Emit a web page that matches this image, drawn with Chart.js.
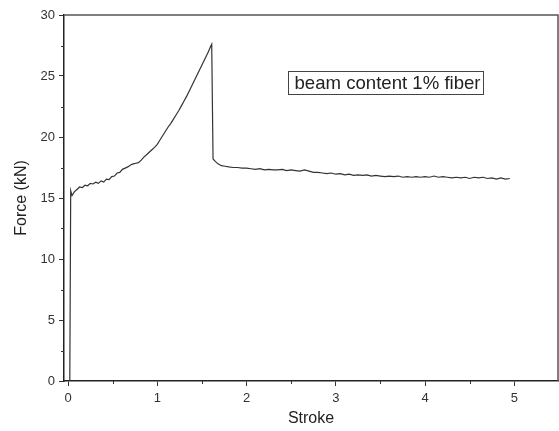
<!DOCTYPE html>
<html>
<head>
<meta charset="utf-8">
<script src="https://cdn.jsdelivr.net/npm/chart.js@4"></script>
<style>
html,body{margin:0;padding:0;background:#fff;}
#wrap{width:559px;height:431px;}
</style>
</head>
<body>
<div id="wrap"><canvas id="c" width="559" height="431"></canvas></div>
<script>
const strokeValues = [0.02,0.03,0.045,0.07,0.10,0.13,0.16,0.19,0.22,0.25,0.28,0.31,0.34,0.37,0.40,0.43,0.46,0.49,0.52,0.55,0.58,0.61,0.64,0.67,0.70,0.73,0.76,0.79,0.82,0.85,0.88,0.91,0.94,0.97,1.00,1.03,1.06,1.09,1.12,1.15,1.18,1.21,1.24,1.27,1.30,1.33,1.36,1.39,1.42,1.45,1.48,1.51,1.54,1.57,1.60,1.61,1.625,1.65,1.68,1.72,1.76,1.80,1.85,1.90,1.95,2.00,2.05,2.10,2.15,2.20,2.25,2.30,2.35,2.40,2.45,2.50,2.55,2.60,2.65,2.70,2.75,2.80,2.85,2.90,2.95,3.00,3.05,3.10,3.15,3.20,3.25,3.30,3.35,3.40,3.45,3.50,3.55,3.60,3.65,3.70,3.75,3.80,3.85,3.90,3.95,4.00,4.05,4.10,4.15,4.20,4.25,4.30,4.35,4.40,4.45,4.50,4.55,4.60,4.65,4.70,4.75,4.80,4.85,4.90,4.95];
const forceValues = [0,15.6,15.2,15.5,15.7,15.9,15.85,16.05,16.0,16.2,16.15,16.3,16.2,16.4,16.3,16.55,16.5,16.75,16.8,17.05,17.1,17.35,17.45,17.55,17.7,17.8,17.85,17.9,18.1,18.35,18.55,18.75,18.95,19.15,19.4,19.75,20.1,20.45,20.8,21.1,21.45,21.8,22.15,22.55,22.95,23.35,23.8,24.25,24.7,25.15,25.6,26.05,26.5,26.95,27.45,27.6,18.2,18.0,17.8,17.65,17.6,17.55,17.5,17.5,17.45,17.45,17.4,17.35,17.4,17.3,17.35,17.3,17.3,17.35,17.25,17.3,17.25,17.2,17.3,17.2,17.1,17.1,17.05,17.0,17.05,16.95,17.0,16.9,16.95,16.85,16.9,16.85,16.9,16.8,16.85,16.8,16.75,16.8,16.75,16.8,16.7,16.75,16.7,16.75,16.7,16.75,16.7,16.8,16.7,16.75,16.7,16.65,16.7,16.65,16.7,16.6,16.7,16.65,16.7,16.6,16.65,16.55,16.65,16.55,16.6];
const xTickLabels = [0,1,2,3,4,5];
const xMinorTicks = [0.5,1.5,2.5,3.5,4.5,5.5];
const yTickLabels = [0,5,10,15,20,25,30];
const yMinorTicks = [2.5,7.5,12.5,17.5,22.5,27.5];
const xTitle = 'Stroke';
const yTitle = 'Force (kN)';
const annotationText = 'beam content 1% fiber';
const annotationAt = {x: 2.47, y: 25.45};

const FONT = "'Liberation Sans', Arial, sans-serif";

const decor = {
  id: 'decor',
  afterDraw(chart) {
    const {ctx, chartArea: a, scales: {x, y}} = chart;
    ctx.save();
    ctx.strokeStyle = '#555';
    ctx.lineWidth = 1.5;
    ctx.beginPath();
    ctx.moveTo(a.left, a.top);
    ctx.lineTo(a.right, a.top);
    ctx.lineTo(a.right, a.bottom);
    ctx.stroke();
    ctx.strokeStyle = '#333';
    ctx.lineWidth = 1;
    ctx.beginPath();
    xMinorTicks.forEach(v => {
      const px = Math.round(x.getPixelForValue(v)) + 0.5;
      if (px > a.right + 1) return;
      ctx.moveTo(px, a.bottom);
      ctx.lineTo(px, a.bottom + 3);
    });
    yMinorTicks.forEach(v => {
      const py = Math.round(y.getPixelForValue(v)) + 0.5;
      ctx.moveTo(a.left, py);
      ctx.lineTo(a.left - 3, py);
    });
    ctx.stroke();
    ctx.font = '18.6px ' + FONT;
    const tw = ctx.measureText(annotationText).width;
    const bx = Math.round(x.getPixelForValue(annotationAt.x)) + 0.5;
    const by = Math.round(y.getPixelForValue(annotationAt.y)) + 0.5;
    const bw = Math.round(tw + 9);
    const bh = 23;
    ctx.strokeStyle = '#444';
    ctx.lineWidth = 1;
    ctx.strokeRect(bx, by, bw, bh);
    ctx.fillStyle = '#222';
    ctx.textBaseline = 'middle';
    ctx.textAlign = 'left';
    ctx.fillText(annotationText, bx + 6, by + bh / 2 + 1);
    ctx.restore();
  }
};

new Chart(document.getElementById('c'), {
  type: 'scatter',
  data: {
    datasets: [{
      data: strokeValues.map((s, i) => ({x: s, y: forceValues[i]})),
      showLine: true,
      borderColor: '#333',
      borderWidth: 1.2,
      pointRadius: 0,
      tension: 0,
      fill: false
    }]
  },
  options: {
    responsive: false,
    animation: false,
    devicePixelRatio: 1,
    layout: {padding: {top: 15, right: 1, left: 0, bottom: 0}},
    plugins: {legend: {display: false}, tooltip: {enabled: false}},
    scales: {
      x: {
        type: 'linear',
        min: -0.045,
        max: 5.49,
        afterBuildTicks: s => { s.ticks = xTickLabels.map(v => ({value: v})); },
        afterFit: s => { s.height = 50; },
        ticks: {autoSkip: false, color: '#333', padding: 5, font: {family: FONT, size: 13}, maxRotation: 0},
        grid: {drawOnChartArea: false, drawTicks: true, tickLength: 5, color: '#333', lineWidth: 1},
        border: {display: true, color: '#222', width: 1.5},
        title: {display: true, text: xTitle, color: '#222', font: {family: FONT, size: 16}, padding: {top: 0, bottom: 3}}
      },
      y: {
        type: 'linear',
        min: 0,
        max: 30,
        afterBuildTicks: s => { s.ticks = yTickLabels.map(v => ({value: v})); },
        afterFit: s => { s.width = 64; },
        ticks: {autoSkip: false, color: '#333', padding: 4, font: {family: FONT, size: 13}},
        grid: {drawOnChartArea: false, drawTicks: true, tickLength: 5, color: '#333', lineWidth: 1},
        border: {display: true, color: '#222', width: 1.5},
        title: {display: true, text: yTitle, color: '#222', font: {family: FONT, size: 16}, padding: {top: 12, bottom: 0}}
      }
    }
  },
  plugins: [decor]
});
</script>
</body>
</html>
